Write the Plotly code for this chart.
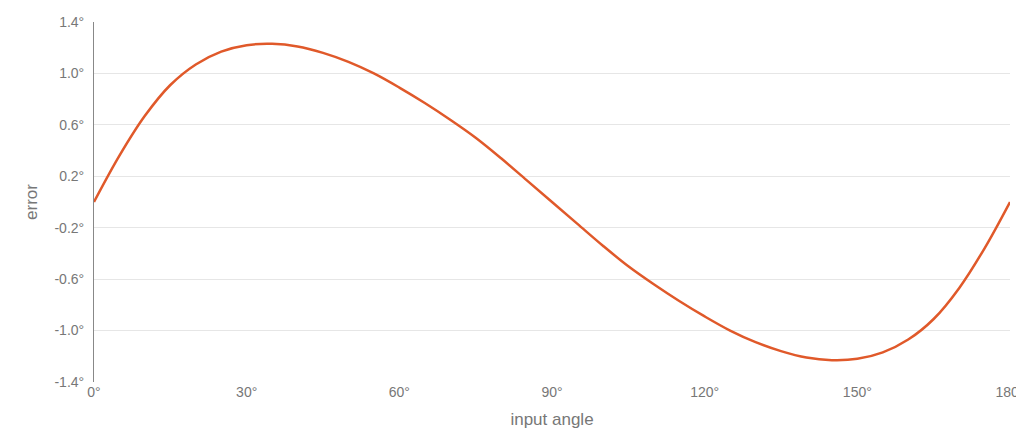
import plotly.graph_objects as go

angle = [0, 5, 10, 15, 20, 25, 30, 35, 40, 45, 50, 55, 60, 65, 70, 75, 80, 85, 90,
         95, 100, 105, 110, 115, 120, 125, 130, 135, 140, 145, 150, 155, 160, 165, 170, 175, 180]
error = [0, 0.36, 0.67, 0.91, 1.07, 1.17, 1.22, 1.23, 1.21, 1.16, 1.09, 1.00, 0.89, 0.77, 0.64, 0.50, 0.34, 0.17, 0,
         -0.17, -0.34, -0.50, -0.64, -0.77, -0.89, -1.00, -1.09, -1.16, -1.21, -1.23, -1.22, -1.17, -1.07, -0.91, -0.67, -0.36, 0]
x_ticks = [0, 30, 60, 90, 120, 150, 180]
y_ticks = [-1.4, -1.0, -0.6, -0.2, 0.2, 0.6, 1.0, 1.4]

fig = go.Figure(go.Scatter(x=angle, y=error, mode="lines", line=dict(color="#e0592a", width=2.5, shape="spline")))
font = dict(family="Liberation Sans, Arial, sans-serif", size=14, color="#777")
fig.update_layout(
    width=1024, height=445, margin=dict(l=86, r=22, t=14, b=71),
    plot_bgcolor="white", paper_bgcolor="white", showlegend=False, font=font,
)
fig.update_xaxes(range=[0, 180], tickvals=x_ticks, ticktext=[f"{v}°" for v in x_ticks],
                 showgrid=False, zeroline=False, title_text="input angle", title_standoff=14,
                 automargin=False)
fig.update_yaxes(range=[-1.4, 1.4], tickvals=y_ticks, ticktext=[f"{v:.1f}°" for v in y_ticks],
                 gridcolor="#e6e6e6", zeroline=False, ticklabelstandoff=6,
                 showline=True, linecolor="#888", title_text="error", title_standoff=12,
                 automargin=False)
fig.write_html("out.html")
